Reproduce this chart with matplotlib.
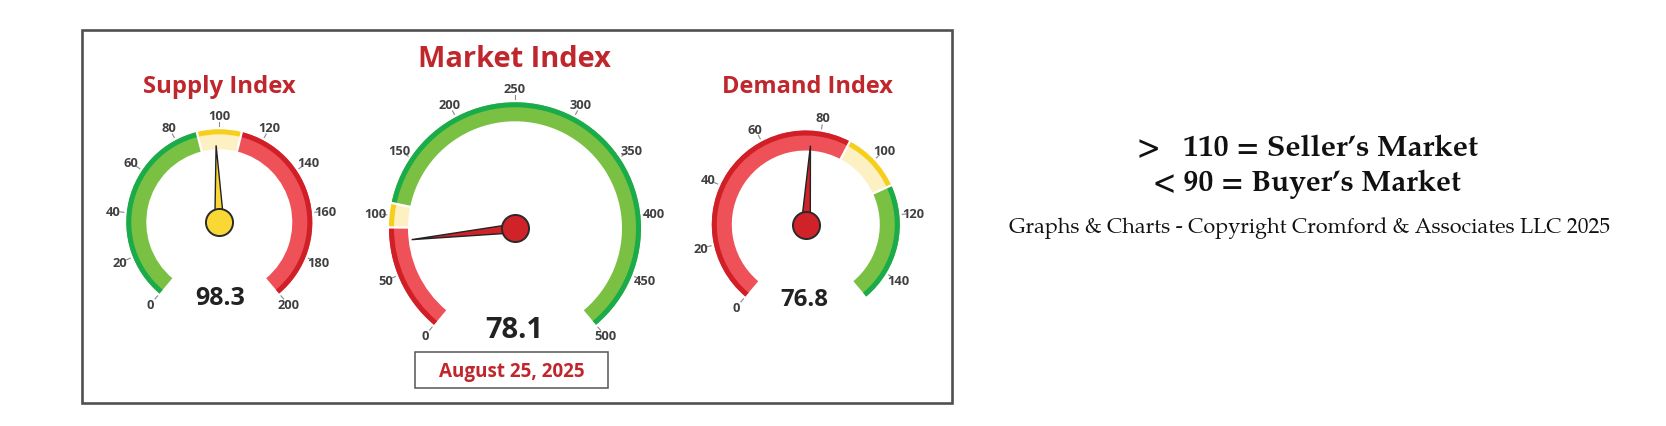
import numpy as np
import matplotlib
matplotlib.use('Agg')
import matplotlib.pyplot as plt
from matplotlib.patches import Rectangle

# ---------------- data ----------------
gauge_titles = ['Supply Index', 'Market Index', 'Demand Index']
gauge_values = [98.3, 78.1, 76.8]
gauge_max = [200, 500, 150]
supply_ticks = [0, 20, 40, 60, 80, 100, 120, 140, 160, 180, 200]
market_ticks = [0, 50, 100, 150, 200, 250, 300, 350, 400, 450, 500]
demand_ticks = [0, 20, 40, 60, 80, 100, 120, 140]
band_edges = [90, 110]          # buyer's / seller's thresholds
low_band = ['green', 'red', 'red']   # colour of the band below 90
date_label = 'August 25, 2025'
legend_lines = ['>   110 = Seller\u2019s Market', '< 90 = Buyer\u2019s Market']
copyright_text = 'Graphs & Charts - Copyright Cromford & Associates LLC 2025'

# ---------------- style / layout ----------------
W, H = 1666, 427
SANS = ['Open Sans', 'DejaVu Sans']
SERIF = ['TeX Gyre Pagella', 'Liberation Serif', 'DejaVu Serif']
TITLE_RED = '#c0272d'
COL = {
    'green': ('#1aab4b', '#7ac143'),
    'yellow': ('#f6cf1c', '#fdf1c4'),
    'red': ('#d01f27', '#ef5158'),
}
NEEDLE = ['#f9d835', '#cf2229', '#cf2229']
centers = [(219.3, 223.3), (515.0, 229.3), (805.8, 225.5)]
outer_R = [93.0, 126.0, 94.0]
thick = [20.0, 19.0, 20.0]
needle_len = [77.0, 104.0, 79.0]
title_pos = [(219, 93.3, 17.2), (514, 66.7, 20.9), (807, 93.3, 17.0)]
value_pos = [(220, 305.5, 18), (514, 338.3, 21), (804, 306.5, 17.3)]
ticks_all = [supply_ticks, market_ticks, demand_ticks]
SWEEP = 280.0

fig = plt.figure(figsize=(W / 100, H / 100), dpi=100)
ov = fig.add_axes([0, 0, 1, 1])
ov.set_xlim(0, W)
ov.set_ylim(H, 0)
ov.set_axis_off()

# outer frame and date box
ov.add_patch(Rectangle((82, 31), 870, 373, fill=False, ec='#505050', lw=1.9))
ov.add_patch(Rectangle((415, 352.7), 193, 36.6, fill=False, ec='#555555', lw=1.1))
ov.text(511.5, 372, date_label, ha='center', va='center', fontsize=13.6,
        weight='bold', color=TITLE_RED, family=SANS)


def ang(v, m):
    return np.deg2rad(SWEEP * v / m)


for i in range(3):
    cx, cy = centers[i]
    R = outer_R[i]
    t = thick[i]
    m = gauge_max[i]
    rmax = R + 40
    ax = fig.add_axes([(cx - rmax) / W, (H - cy - rmax) / H, 2 * rmax / W, 2 * rmax / H],
                      projection='polar')
    ax.set_theta_offset(np.deg2rad(230))
    ax.set_theta_direction(-1)
    ax.set_axis_off()

    high_band = 'red' if low_band[i] == 'green' else 'green'
    bands = [(0, band_edges[0], low_band[i]),
             (band_edges[0], band_edges[1], 'yellow'),
             (band_edges[1], m, high_band)]
    for v0, v1, c in bands:
        t0, t1 = ang(v0, m), ang(v1, m)
        dark, light = COL[c]
        ax.bar((t0 + t1) / 2, t, width=t1 - t0, bottom=R - t, color=light, linewidth=0)
        ax.bar((t0 + t1) / 2, 5.0, width=t1 - t0, bottom=R - 5.0, color=dark, linewidth=0)
    for e in band_edges:
        te = ang(e, m)
        ax.plot([te, te], [R - t - 1, R + 1], color='white', lw=1.6)

    for v in ticks_all[i]:
        tv = ang(v, m)
        ax.plot([tv, tv], [R + 3, R + 7], color='#8a8a8a', lw=0.8)
        ax.text(tv, R + 14, str(v), ha='center', va='center', fontsize=9.3,
                weight='bold', color='#404040', family=SANS, clip_on=False)

    tn = ang(gauge_values[i], m)
    ax.fill([tn - np.pi / 2, tn, tn + np.pi / 2], [4.5, needle_len[i], 4.5],
            color=NEEDLE[i], ec='#222222', lw=1.0, zorder=5)
    ax.plot([0], [0], 'o', ms=19.5, mfc=NEEDLE[i], mec='#2a2a2a', mew=1.4, zorder=6)
    ax.set_rlim(0, rmax)

    tx, ty, fs = title_pos[i]
    ov.text(tx, ty, gauge_titles[i], ha='center', va='baseline', fontsize=fs,
            weight='bold', color=TITLE_RED, family=SANS)
    vx, vy, vfs = value_pos[i]
    ov.text(vx, vy, f'{gauge_values[i]:.1f}', ha='center', va='baseline', fontsize=vfs,
            weight='bold', color='#222222', family=SANS)

# right-hand legend text
ov.text(1307.5, 155.7, legend_lines[0], ha='center', va='baseline', fontsize=21.8,
        weight='bold', color='#111111', family=SERIF)
ov.text(1306.5, 191, legend_lines[1], ha='center', va='baseline', fontsize=21.5,
        weight='bold', color='#111111', family=SERIF)
ov.text(1310, 233, copyright_text, ha='center', va='baseline', fontsize=15.5,
        color='#111111', family=SERIF)

fig.savefig('out.png', dpi=100)
